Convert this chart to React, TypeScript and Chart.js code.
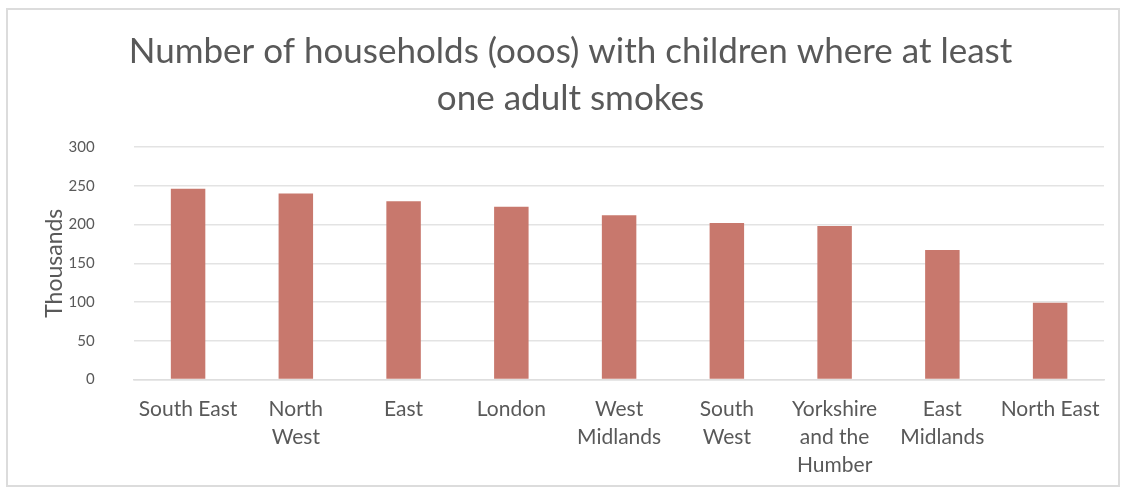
import React, { useEffect, useRef } from "react";
import { Chart, registerables } from "chart.js";

Chart.register(...registerables);

const titleLines = [
  "Number of households (ooos) with children where at least",
  "one adult smokes",
];
const regions: (string | string[])[] = [
  "South East",
  ["North", "West"],
  "East",
  "London",
  ["West", "Midlands"],
  ["South", "West"],
  ["Yorkshire", "and the", "Humber"],
  ["East", "Midlands"],
  "North East",
];
const households = [246, 240, 230, 223, 212, 202, 198, 167, 99];
const yTitle = "Thousands";
const yMin = 0;
const yMax = 300;
const yStep = 50;

const TEXT = "#595959";
const FONT = "Lato, 'Open Sans', sans-serif";

export default function App() {
  const ref = useRef<HTMLCanvasElement | null>(null);

  useEffect(() => {
    if (!ref.current) return;
    const chart = new Chart(ref.current, {
      type: "bar",
      data: {
        labels: regions,
        datasets: [
          {
            label: "Households",
            data: households,
            backgroundColor: "#C8786D",
            borderWidth: 0,
            categoryPercentage: 1,
            barPercentage: 0.32,
          },
        ],
      },
      options: {
        animation: false,
        responsive: false,
        maintainAspectRatio: false,
        layout: { padding: { top: 20, left: 37, right: 28, bottom: 11.7 } },
        plugins: {
          legend: { display: false },
          tooltip: { enabled: false },
          title: {
            display: true,
            text: titleLines,
            color: TEXT,
            font: { family: FONT, size: 35, weight: "normal", lineHeight: 1.32 },
            padding: { top: 9, bottom: 25.6 },
          },
        },
        scales: {
          x: {
            grid: { display: false, drawTicks: true, tickLength: 16 },
            border: { display: true, color: "#dedede", width: 1.5 },
            ticks: {
              color: TEXT,
              font: { family: FONT, size: 21, lineHeight: 1.33 },
              padding: 0,
              maxRotation: 0,
              minRotation: 0,
              autoSkip: false,
            },
          },
          y: {
            min: yMin,
            max: yMax,
            border: { display: false },
            grid: {
              color: "#e3e3e3",
              lineWidth: 1.5,
              drawTicks: true,
              tickLength: 39.5,
              tickColor: "rgba(0,0,0,0)",
            },
            ticks: {
              stepSize: yStep,
              color: TEXT,
              font: { family: FONT, size: 15 },
              padding: 0,
            },
            title: {
              display: true,
              text: yTitle,
              color: TEXT,
              font: { family: FONT, size: 23 },
              padding: { top: 4, bottom: 0 },
            },
          },
        },
      },
    });
    return () => chart.destroy();
  }, []);

  return (
    <div style={{ position: "absolute", left: 0, top: 0, width: 1132, height: 491, background: "#fff" }}>
      <canvas ref={ref} width={1132} height={491} style={{ display: "block", width: 1132, height: 491 }} />
      <div
        style={{
          position: "absolute",
          left: 6,
          top: 8,
          width: 1114,
          height: 479,
          border: "2px solid #dcdcdc",
          boxSizing: "border-box",
          pointerEvents: "none",
        }}
      />
    </div>
  );
}
